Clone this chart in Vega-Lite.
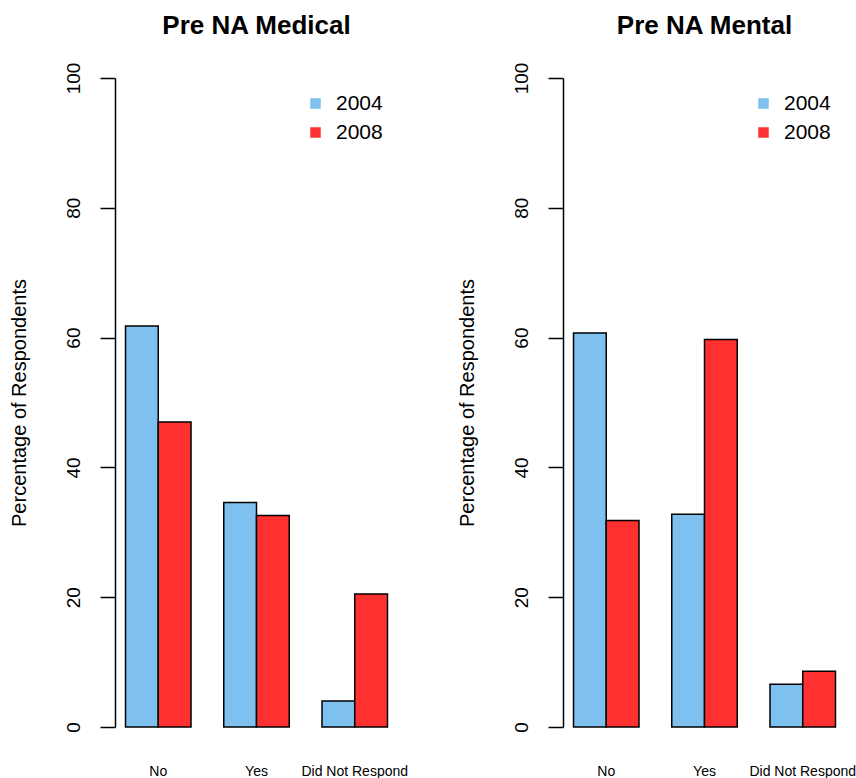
{
  "$schema": "https://vega.github.io/schema/vega-lite/v6.json",
  "padding": {"left": 9, "top": 13, "right": 5, "bottom": 5},
  "background": "white",
  "data": {"values": [
    {"panel": "Pre NA Medical", "response": "No", "year": "2004", "pct": 61.8},
    {"panel": "Pre NA Medical", "response": "No", "year": "2008", "pct": 47.0},
    {"panel": "Pre NA Medical", "response": "Yes", "year": "2004", "pct": 34.6},
    {"panel": "Pre NA Medical", "response": "Yes", "year": "2008", "pct": 32.6},
    {"panel": "Pre NA Medical", "response": "Did Not Respond", "year": "2004", "pct": 4.0},
    {"panel": "Pre NA Medical", "response": "Did Not Respond", "year": "2008", "pct": 20.5},
    {"panel": "Pre NA Mental", "response": "No", "year": "2004", "pct": 60.7},
    {"panel": "Pre NA Mental", "response": "No", "year": "2008", "pct": 31.8},
    {"panel": "Pre NA Mental", "response": "Yes", "year": "2004", "pct": 32.8},
    {"panel": "Pre NA Mental", "response": "Yes", "year": "2008", "pct": 59.7},
    {"panel": "Pre NA Mental", "response": "Did Not Respond", "year": "2004", "pct": 6.6},
    {"panel": "Pre NA Mental", "response": "Did Not Respond", "year": "2008", "pct": 8.6}
  ]},
  "spacing": 49,
  "resolve": {"legend": {"color": "independent"}, "scale": {"color": "independent"}},
  "hconcat": [
    {
      "title": {"text": "Pre NA Medical"},
      "transform": [{"filter": "datum.panel === 'Pre NA Medical'"}],
      "width": 283, "height": 649,
      "mark": {"type": "bar", "stroke": "black", "strokeWidth": 1.5},
      "encoding": {
        "x": {"field": "response", "type": "nominal", "sort": ["No", "Yes", "Did Not Respond"],
              "scale": {"paddingInner": 0.3333, "paddingOuter": 0.107},
              "axis": {"title": null, "labelAngle": 0, "domain": false, "ticks": false, "labelFontSize": 14, "labelPadding": 37}},
        "xOffset": {"field": "year", "type": "nominal", "scale": {"paddingInner": 0, "paddingOuter": 0}},
        "y": {"field": "pct", "type": "quantitative", "scale": {"domain": [0, 100], "nice": false},
              "axis": {"values": [0, 20, 40, 60, 80, 100], "title": "Percentage of Respondents"}},
        "color": {"field": "year", "type": "nominal", "scale": {"domain": ["2004", "2008"], "range": ["#7EC0EE", "#FF3030"]},
                  "legend": {"orient": "none", "legendX": 190, "legendY": 15, "title": null}}
      }
    },
    {
      "title": {"text": "Pre NA Mental"},
      "transform": [{"filter": "datum.panel === 'Pre NA Mental'"}],
      "width": 283, "height": 649,
      "mark": {"type": "bar", "stroke": "black", "strokeWidth": 1.5},
      "encoding": {
        "x": {"field": "response", "type": "nominal", "sort": ["No", "Yes", "Did Not Respond"],
              "scale": {"paddingInner": 0.3333, "paddingOuter": 0.107},
              "axis": {"title": null, "labelAngle": 0, "domain": false, "ticks": false, "labelFontSize": 14, "labelPadding": 37}},
        "xOffset": {"field": "year", "type": "nominal", "scale": {"paddingInner": 0, "paddingOuter": 0}},
        "y": {"field": "pct", "type": "quantitative", "scale": {"domain": [0, 100], "nice": false},
              "axis": {"values": [0, 20, 40, 60, 80, 100], "title": "Percentage of Respondents"}},
        "color": {"field": "year", "type": "nominal", "scale": {"domain": ["2004", "2008"], "range": ["#7EC0EE", "#FF3030"]},
                  "legend": {"orient": "none", "legendX": 190, "legendY": 15, "title": null}}
      }
    }
  ],
  "config": {
    "font": "Liberation Sans",
    "view": {"stroke": null},
    "title": {"fontSize": 26, "fontWeight": "bold", "color": "black", "anchor": "middle", "frame": "group", "offset": 23},
    "axis": {"labelColor": "black", "titleColor": "black", "tickColor": "black", "domainColor": "black", "labelFont": "Liberation Sans", "titleFont": "Liberation Sans"},
    "axisY": {"grid": false, "labelAngle": -90, "labelFontSize": 19, "tickSize": 15, "tickWidth": 1.5, "domainWidth": 1.5, "labelPadding": 17, "titleFontSize": 20, "titleFontWeight": "normal", "titlePadding": 35},
    "axisX": {"labelColor": "black"},
    "legend": {"labelFontSize": 21, "labelColor": "black", "symbolType": "square", "symbolSize": 110, "symbolStrokeWidth": 0, "labelOffset": 10, "rowPadding": 7, "padding": 0}
  }
}
